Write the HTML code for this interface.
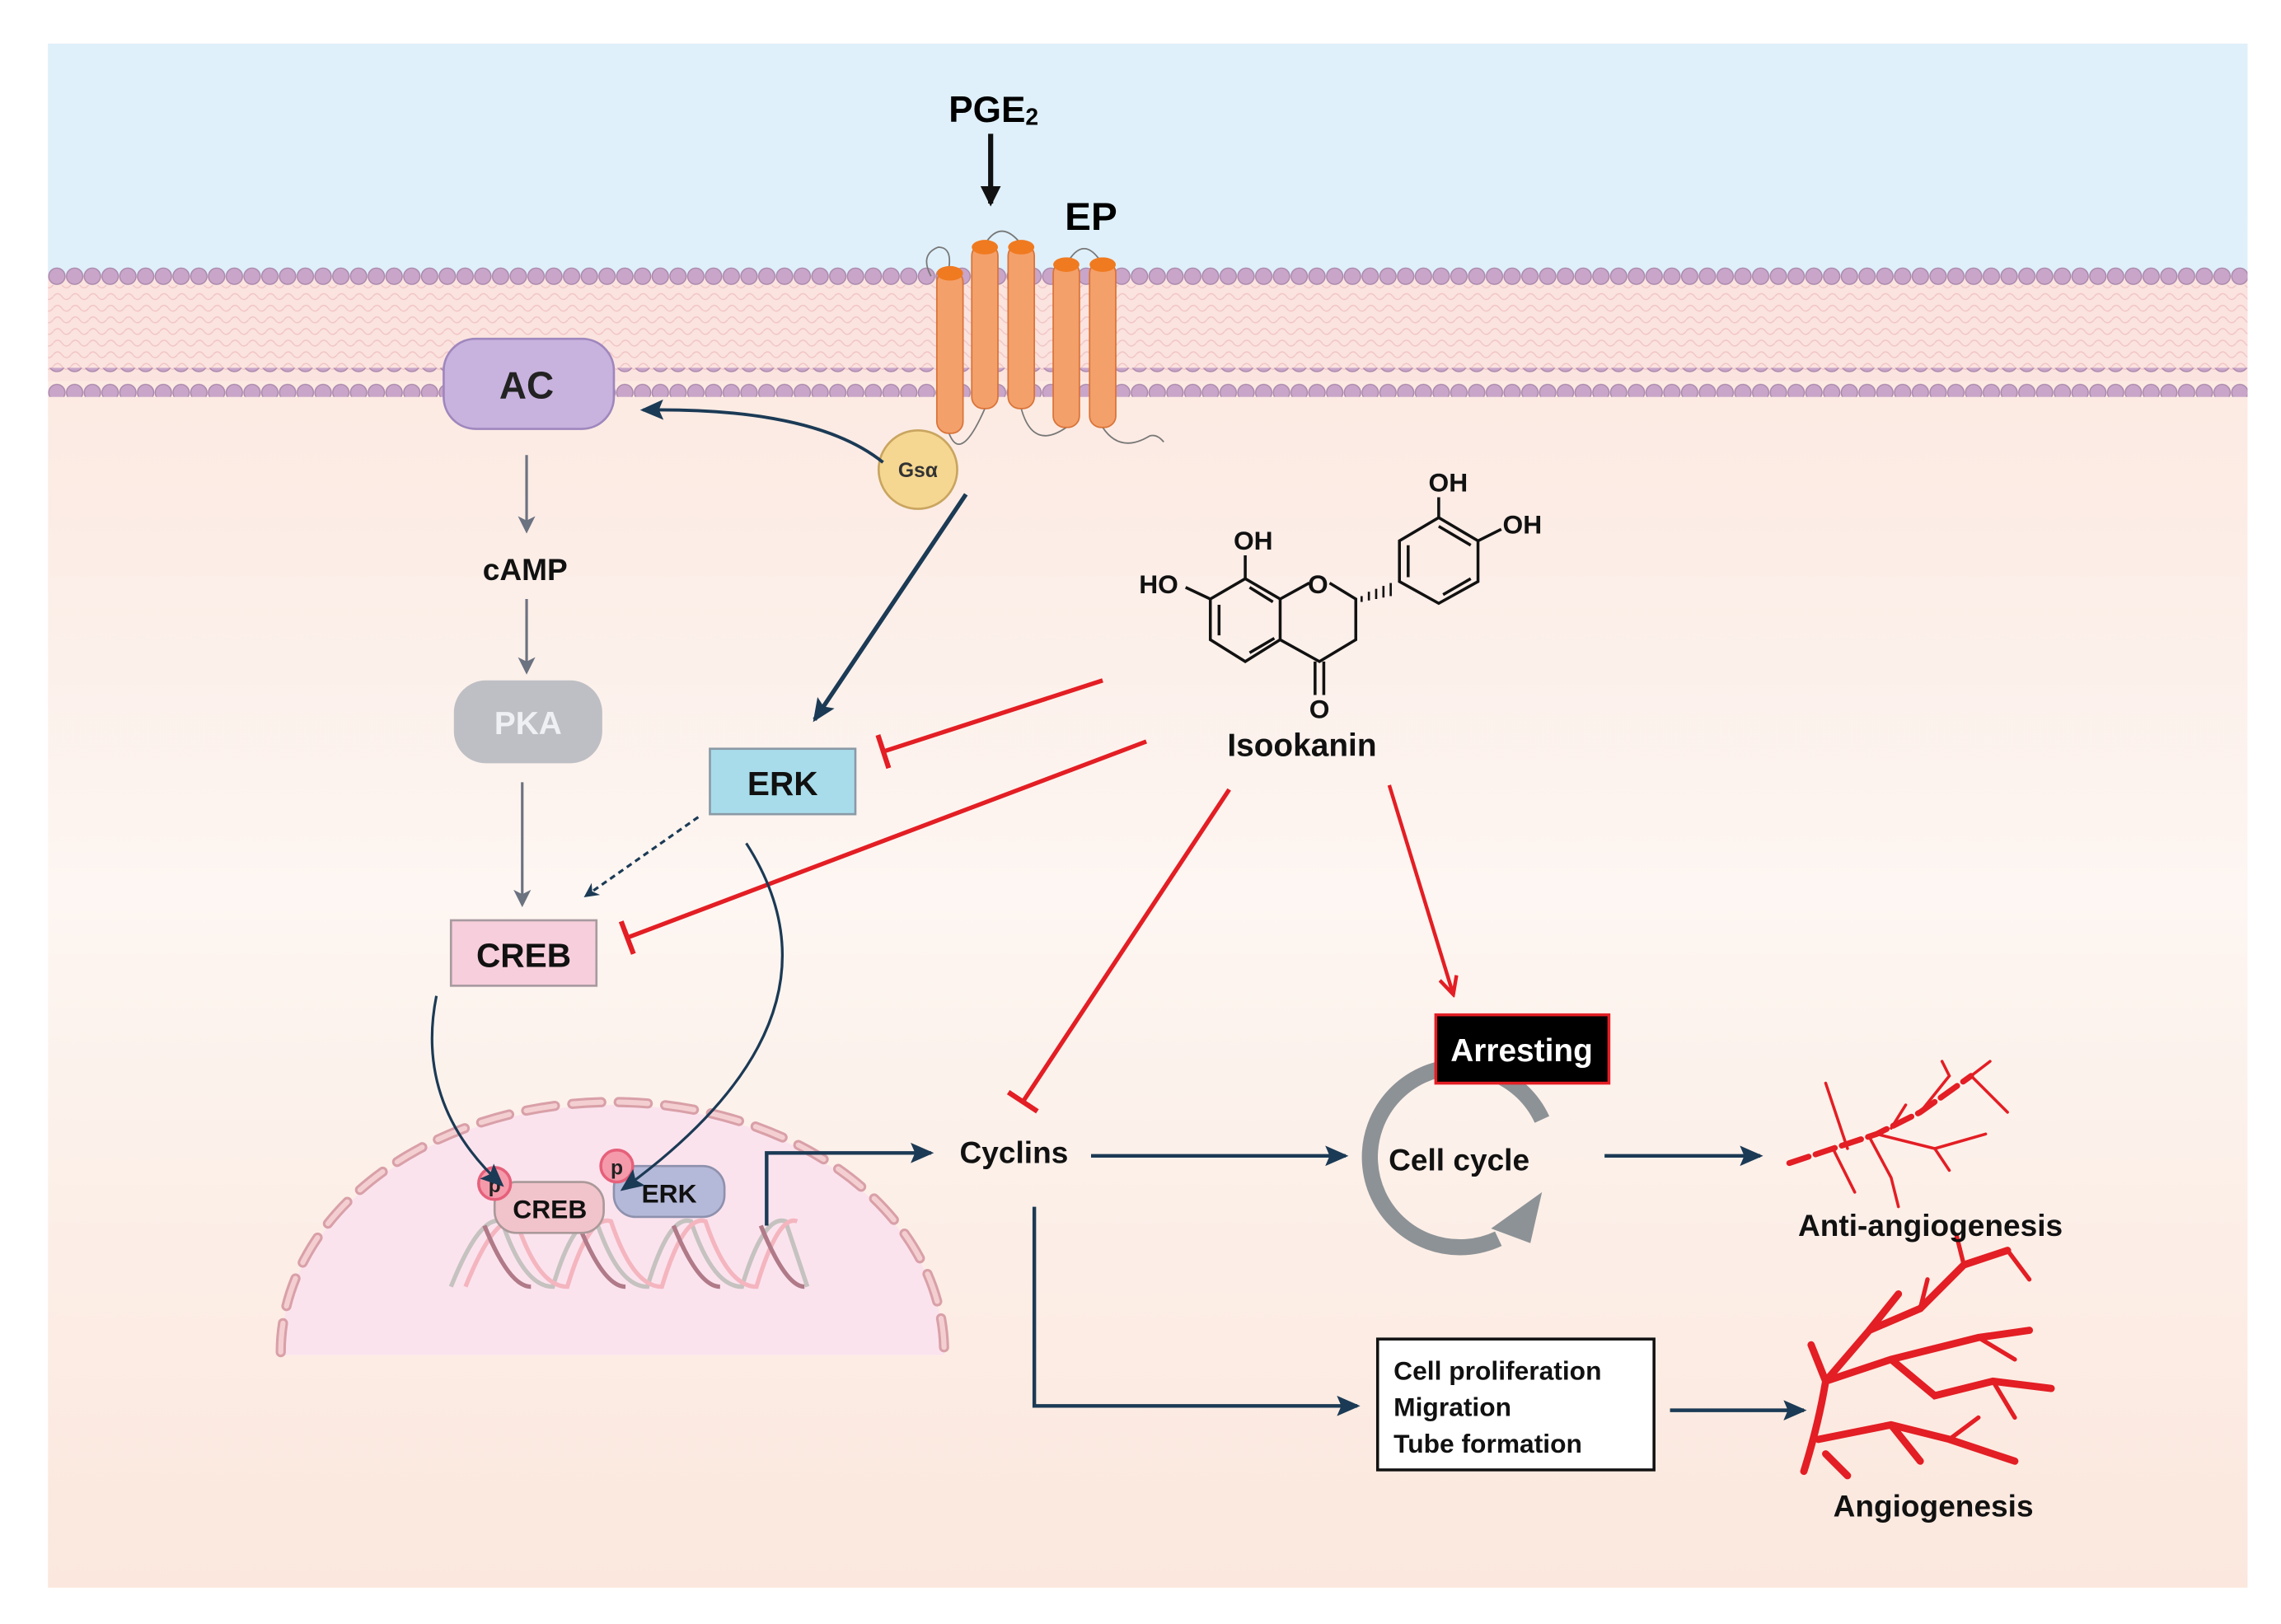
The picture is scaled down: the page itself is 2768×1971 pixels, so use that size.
<!DOCTYPE html>
<html><head><meta charset="utf-8"><style>
html,body{margin:0;padding:0;background:#fff}
svg{display:block}
text{font-family:"Liberation Sans",Arial,sans-serif;font-weight:bold}
</style></head><body>
<svg width="2768" height="1971" viewBox="0 0 1568 1117" preserveAspectRatio="none" xmlns="http://www.w3.org/2000/svg">
<defs>
<linearGradient id="cyt" x1="0" y1="0" x2="0" y2="1">
<stop offset="0" stop-color="#fbe6dc"/>
<stop offset="0.3" stop-color="#fcece5"/>
<stop offset="0.55" stop-color="#fdf6f2"/>
<stop offset="0.75" stop-color="#fcefe8"/>
<stop offset="1" stop-color="#fbe7dd"/>
</linearGradient>
<pattern id="beads" x="33" y="0" width="12.2" height="20" patternUnits="userSpaceOnUse">
<circle cx="6.1" cy="10" r="5.6" fill="#c9a5c9" stroke="#a987ab" stroke-width="0.8"/>
</pattern>
<pattern id="wave" x="0" y="0" width="12.2" height="8" patternUnits="userSpaceOnUse">
<path d="M0 4 Q3 0 6 4 T12.2 4" fill="none" stroke="#f0c4c4" stroke-width="0.8"/>
</pattern>
<marker id="an" markerWidth="10" markerHeight="10" refX="8" refY="5" orient="auto" markerUnits="userSpaceOnUse"><path d="M0,0 L10,5 L0,10 L3,5z" fill="#1b3a55"/></marker>
<marker id="ag" markerWidth="12" markerHeight="12" refX="10" refY="6" orient="auto" markerUnits="userSpaceOnUse"><path d="M0,0 L12,6 L0,12 L3,6z" fill="#6b7280"/></marker>
<marker id="ab" markerWidth="14" markerHeight="14" refX="12" refY="7" orient="auto" markerUnits="userSpaceOnUse"><path d="M0,0 L14,7 L0,14z" fill="#111"/></marker>
<marker id="anb" markerWidth="16" markerHeight="14" refX="14" refY="7" orient="auto" markerUnits="userSpaceOnUse"><path d="M0,0 L16,7 L0,14 L3,7z" fill="#1b3a55"/></marker>
<marker id="ar" markerWidth="16" markerHeight="14" refX="14" refY="7" orient="auto" markerUnits="userSpaceOnUse"><path d="M2,1 L14,7 L2,13" fill="none" stroke="#e31e24" stroke-width="2.5"/></marker>
<marker id="tr" markerWidth="4" markerHeight="24" refX="2" refY="12" orient="auto" markerUnits="userSpaceOnUse"><rect x="0" y="0" width="3.5" height="24" fill="#e31e24"/></marker>
</defs>
<rect x="0" y="0" width="1568" height="1117" fill="#fff"/>
<rect x="33" y="30" width="1512" height="1062" fill="url(#cyt)"/>
<rect x="33" y="30" width="1512" height="160" fill="#dff0fa"/>
<rect x="33" y="190" width="1512" height="72" fill="#fbe3df"/>
<rect x="33" y="196" width="1512" height="60" fill="url(#wave)"/>
<rect x="33" y="178" width="1512" height="20" fill="url(#beads)"/>
<rect x="33" y="253" width="1512" height="20" fill="url(#beads)"/>

<!-- receptor -->
<g stroke="#777" stroke-width="1" fill="none">
<path d="M640 190 Q632 175 645 170 Q655 170 652 186"/>
<path d="M677 168 Q688 150 702 168"/>
<path d="M733 182 Q745 160 758 182"/>
<path d="M652 297 Q660 320 677 281"/>
<path d="M702 281 Q710 310 733 294"/>
<path d="M758 294 Q770 312 790 300 Q795 298 800 304"/>
</g>
<g>
<rect x="644" y="186" width="18" height="112" rx="8" fill="#f4a06a" stroke="#d9743a"/>
<ellipse cx="653" cy="188" rx="9" ry="5" fill="#f07a20"/>
<rect x="668" y="168" width="18" height="113" rx="8" fill="#f4a06a" stroke="#d9743a"/>
<ellipse cx="677" cy="170" rx="9" ry="5" fill="#f07a20"/>
<rect x="693" y="168" width="18" height="113" rx="8" fill="#f4a06a" stroke="#d9743a"/>
<ellipse cx="702" cy="170" rx="9" ry="5" fill="#f07a20"/>
<rect x="724" y="180" width="18" height="114" rx="8" fill="#f4a06a" stroke="#d9743a"/>
<ellipse cx="733" cy="182" rx="9" ry="5" fill="#f07a20"/>
<rect x="749" y="180" width="18" height="114" rx="8" fill="#f4a06a" stroke="#d9743a"/>
<ellipse cx="758" cy="182" rx="9" ry="5" fill="#f07a20"/>
</g>
<text x="683" y="84" font-size="25" text-anchor="middle">PGE<tspan font-size="16" dy="2">2</tspan></text>
<line x1="681" y1="92" x2="681" y2="140" stroke="#111" stroke-width="3.5" marker-end="url(#ab)"/>
<text x="750" y="158" font-size="27" text-anchor="middle">EP</text>

<circle cx="631" cy="323" r="27" fill="#f6d791" stroke="#c9a560" stroke-width="1.5"/>
<text x="631" y="328" font-size="14" text-anchor="middle" fill="#333">Gsα</text>

<rect x="305" y="233" width="117" height="62" rx="22" fill="#c8b2de" stroke="#9f87bd" stroke-width="1.5"/>
<text x="362" y="274" font-size="26" text-anchor="middle" fill="#222">AC</text>
<path d="M607 318 Q560 280 442 282" fill="none" stroke="#1b3a55" stroke-width="2.2" marker-end="url(#anb)"/>

<line x1="362" y1="313" x2="362" y2="365" stroke="#6b7280" stroke-width="1.8" marker-end="url(#ag)"/>
<text x="361" y="399" font-size="21" text-anchor="middle" fill="#111">cAMP</text>
<line x1="362" y1="412" x2="362" y2="462" stroke="#6b7280" stroke-width="1.8" marker-end="url(#ag)"/>
<rect x="312" y="468" width="102" height="57" rx="22" fill="#bebfc4"/>
<text x="363" y="505" font-size="22" text-anchor="middle" fill="#eef0f3">PKA</text>
<line x1="359" y1="538" x2="359" y2="622" stroke="#6b7280" stroke-width="1.8" marker-end="url(#ag)"/>

<line x1="664" y1="340" x2="560" y2="495" stroke="#1b3a55" stroke-width="3" marker-end="url(#anb)"/>
<rect x="488" y="515" width="100" height="45" fill="#a8dcea" stroke="#8a9aa6" stroke-width="1.5"/>
<text x="538" y="547" font-size="23" text-anchor="middle" fill="#111">ERK</text>
<line x1="480" y1="562" x2="403" y2="616" stroke="#1b3a55" stroke-width="1.8" stroke-dasharray="4,3" marker-end="url(#an)"/>
<rect x="310" y="633" width="100" height="45" fill="#f7cedb" stroke="#a89aa0" stroke-width="1.5"/>
<text x="360" y="665" font-size="23" text-anchor="middle" fill="#111">CREB</text>

<!-- red inhibitions -->
<line x1="758" y1="468" x2="607" y2="517" stroke="#e31e24" stroke-width="3" marker-end="url(#tr)"/>
<line x1="788" y1="510" x2="431" y2="645" stroke="#e31e24" stroke-width="3" marker-end="url(#tr)"/>
<line x1="845" y1="543" x2="703" y2="758" stroke="#e31e24" stroke-width="3" marker-end="url(#tr)"/>
<line x1="955" y1="540" x2="999" y2="684" stroke="#e31e24" stroke-width="2.5" marker-end="url(#ar)"/>

<!-- nucleus -->
<path d="M193 932 A228 172 0 0 1 649 932 Z" fill="#fbe3ee"/>
<path d="M193 930 A228 172 0 0 1 649 930" fill="none" stroke="#d9a0a8" stroke-width="7" stroke-dasharray="20,12" stroke-linecap="round"/>
<path d="M193 930 A228 172 0 0 1 649 930" fill="none" stroke="#f4cfd2" stroke-width="3.5" stroke-dasharray="20,12" stroke-linecap="round"/>
<g fill="none" stroke-width="3">
<path d="M310 885 Q330 835 345 840 Q360 885 380 885 Q395 835 410 840 Q425 885 445 885 Q460 835 475 840 Q490 885 510 885 Q525 835 540 840 Q550 870 555 885" stroke="#c5c2c0"/>
<path d="M320 885 Q340 835 355 840 Q370 885 390 885 Q405 835 420 840 Q435 885 455 885 Q470 835 485 840 Q500 885 520 885 Q535 835 548 840" stroke="#f4b5bf"/>
<path d="M333 843 Q350 885 365 885 M398 843 Q415 885 430 885 M463 843 Q480 885 495 885 M523 843 Q540 885 553 885" stroke="#b07a88"/>
</g>
<rect x="340" y="813" width="75" height="35" rx="15" fill="#f1c3cb" stroke="#a99" stroke-width="1.5"/>
<text x="378" y="838" font-size="18" text-anchor="middle" fill="#111">CREB</text>
<rect x="422" y="802" width="76" height="35" rx="15" fill="#b5b9d9" stroke="#8e91ad" stroke-width="1.5"/>
<text x="460" y="827" font-size="18" text-anchor="middle" fill="#111">ERK</text>
<circle cx="340" cy="814" r="11" fill="#f59aab" stroke="#e6607a" stroke-width="2"/>
<text x="340" y="820" font-size="14" text-anchor="middle" fill="#222" font-weight="normal">p</text>
<circle cx="424" cy="802" r="11" fill="#f59aab" stroke="#e6607a" stroke-width="2"/>
<text x="424" y="808" font-size="14" text-anchor="middle" fill="#222" font-weight="normal">p</text>

<path d="M300 685 Q285 760 345 815" fill="none" stroke="#1b3a55" stroke-width="1.8" marker-end="url(#anb)"/>
<path d="M513 580 Q590 700 428 818" fill="none" stroke="#1b3a55" stroke-width="1.8" marker-end="url(#anb)"/>
<path d="M527 843 L527 793 L640 793" fill="none" stroke="#1b3a55" stroke-width="2.5" marker-end="url(#anb)"/>

<text x="697" y="800" font-size="21" text-anchor="middle" fill="#111">Cyclins</text>
<line x1="750" y1="795" x2="925" y2="795" stroke="#1b3a55" stroke-width="2.5" marker-end="url(#anb)"/>
<path d="M711 830 L711 967 L933 967" fill="none" stroke="#1b3a55" stroke-width="2.5" marker-end="url(#anb)"/>

<!-- cell cycle -->
<path d="M1060 770 A62 62 0 1 0 1030 852" fill="none" stroke="#8d9296" stroke-width="11"/>
<path d="M1025 845 L1060 820 L1052 855 Z" fill="#8d9296"/>
<rect x="987" y="698" width="119" height="47" fill="#000" stroke="#e31e24" stroke-width="2"/>
<text x="1046" y="730" font-size="22" text-anchor="middle" fill="#fff">Arresting</text>
<text x="1003" y="805" font-size="21" text-anchor="middle" fill="#111">Cell cycle</text>
<line x1="1103" y1="795" x2="1210" y2="795" stroke="#1b3a55" stroke-width="2.5" marker-end="url(#anb)"/>

<rect x="947" y="921" width="190" height="90" fill="#fff" stroke="#111" stroke-width="2"/>
<text x="958" y="949" font-size="18" fill="#111">Cell proliferation</text>
<text x="958" y="974" font-size="18" fill="#111">Migration</text>
<text x="958" y="999" font-size="18" fill="#111">Tube formation</text>
<line x1="1148" y1="970" x2="1240" y2="970" stroke="#1b3a55" stroke-width="2.5" marker-end="url(#anb)"/>

<!-- vessels -->
<g fill="none" stroke="#e31e24" stroke-linecap="round">
<path d="M1230 800 Q1260 790 1290 780 L1320 765 L1355 740" stroke-width="4" stroke-dasharray="14,5"/>
<path d="M1290 780 L1330 790 L1365 780 M1320 765 L1340 740 L1335 730 M1270 790 L1260 760 L1255 745 M1300 776 L1310 760 M1355 740 L1368 730 M1260 790 L1275 820 M1285 782 L1300 810 L1305 830 M1330 790 L1340 805 M1355 740 L1380 765" stroke-width="2"/>
<path d="M1240 1012 Q1250 980 1255 950 L1285 915 L1305 890 M1255 950 L1300 935 L1360 920 L1395 915 M1285 915 L1320 900 L1350 870 L1380 860 M1250 990 L1300 980 L1340 990 L1385 1005 M1300 935 L1330 960 L1370 950 L1410 955 M1255 950 L1245 925 M1300 980 L1320 1005 M1255 1000 L1270 1015" stroke-width="5"/>
<path d="M1320 900 L1325 880 M1350 870 L1345 850 M1380 860 L1395 880 M1360 920 L1385 935 M1340 990 L1360 975 M1370 950 L1385 975" stroke-width="3"/>
</g>
<text x="1327" y="850" font-size="21" text-anchor="middle" fill="#111">Anti-angiogenesis</text>
<text x="1329" y="1043" font-size="21" text-anchor="middle" fill="#111">Angiogenesis</text>

<!-- isookanin -->
<g fill="none" stroke="#111" stroke-width="2">
<path d="M856 398 L880 412 L880 440 L856 455 L832 440 L832 412 Z"/>
<path d="M838 416 L838 437 M859 449 L876 439 M859 404 L875 414"/>
<path d="M880 412 L900 401 M914 401 L932 412 L932 440 L907 455 L880 440"/>
<path d="M904 455 L904 478 M910 455 L910 478"/>
<path d="M856 398 L856 382 M832 412 L815 404"/>
<path d="M962 400 L962 372 L989 356 L1016 372 L1016 400 L989 415 Z"/>
<path d="M968 375 L968 397 M989 362 L1011 375 M992 409 L1011 398"/>
<path d="M989 356 L989 342 M1016 372 L1032 364"/>
</g>
<g stroke="#111" stroke-width="1.5">
<line x1="936" y1="410" x2="936" y2="414"/><line x1="941" y1="407" x2="941" y2="413"/><line x1="946" y1="405" x2="946" y2="412"/><line x1="951" y1="403" x2="951" y2="411"/><line x1="956" y1="401" x2="956" y2="410"/>
</g>
<g font-size="18" font-weight="normal" fill="#111">
<text x="783" y="408">HO</text>
<text x="848" y="378">OH</text>
<text x="899" y="408">O</text>
<text x="900" y="494">O</text>
<text x="982" y="338">OH</text>
<text x="1033" y="367">OH</text>
</g>
<text x="895" y="520" font-size="22" text-anchor="middle" fill="#111">Isookanin</text>
</svg>
</body></html>
